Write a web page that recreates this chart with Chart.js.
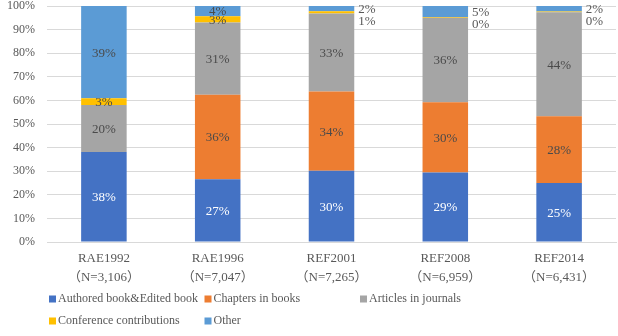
<!DOCTYPE html>
<html><head><meta charset="utf-8">
<script src="https://cdn.jsdelivr.net/npm/chart.js@4/dist/chart.umd.min.js"></script>
<style>html,body{margin:0;padding:0;background:#fff;}#wrap{width:618px;height:336px;position:relative;}</style>
</head><body><div id="wrap"><canvas id="c" width="618" height="336"></canvas></div>
<script>
const categories = ["RAE1992", "RAE1996", "REF2001", "REF2008", "REF2014"];
const sampleSizes = ["（N=3,106）", "（N=7,047）", "（N=7,265）", "（N=6,959）", "（N=6,431）"];
const seriesNames = ["Authored book&Edited book", "Chapters in books", "Articles in journals", "Conference contributions", "Other"];
const authored = [38.1, 26.6, 30.2, 29.4, 25.0];
const chapters = [0, 35.8, 33.6, 29.8, 28.3];
const articles = [20.0, 30.6, 33.0, 35.8, 44.1];
const conference = [2.8, 2.7, 1.0, 0.3, 0.3];
const other = [39.1, 4.3, 2.2, 4.7, 2.3];
const yTicks = [0, 10, 20, 30, 40, 50, 60, 70, 80, 90, 100];

const colors = ["#4472C4", "#ED7D31", "#A5A5A5", "#FFC000", "#5B9BD5"];
const seriesValues = [authored, chapters, articles, conference, other];
const FONT = "'Liberation Serif', 'DejaVu Serif', 'Noto Sans CJK JP', serif";
const TXT = "#595959";

const labelPlugin = {
  id: 'segLabels',
  afterDatasetsDraw(chart) {
    const ctx = chart.ctx;
    ctx.save();
    ctx.font = "13px " + FONT;
    ctx.textBaseline = 'middle';
    const n = categories.length;
    for (let i = 0; i < n; i++) {
      const outside = conference[i] < 1.5;
      for (let d = 0; d < chart.data.datasets.length; d++) {
        const v = chart.data.datasets[d].data[i];
        if (v === 0) continue;
        const el = chart.getDatasetMeta(d).data[i];
        const top = Math.min(el.y, el.base), bot = Math.max(el.y, el.base);
        const cy = (top + bot) / 2;
        const txt = Math.round(v) + "%";
        if (outside && d >= 3) {
          const xr = el.x + el.width / 2 + 4;
          ctx.textAlign = 'left';
          ctx.fillStyle = TXT;
          if (d === 4) { ctx.fillText(txt, xr, cy + 1); }
          else {
            const oel = chart.getDatasetMeta(4).data[i];
            const oy = (oel.y + oel.base) / 2;
            ctx.fillText(txt, xr, oy + 13);
          }
        } else {
          ctx.textAlign = 'center';
          ctx.fillStyle = d === 0 ? "#FFFFFF" : "#4a4a4a";
          ctx.fillText(txt, el.x, cy + 1);
        }
      }
    }
    ctx.restore();
  }
};

const legendPlugin = {
  id: 'gridLegend',
  afterDraw(chart) {
    const ctx = chart.ctx;
    ctx.save();
    ctx.font = "12px " + FONT;
    ctx.textBaseline = 'middle';
    ctx.textAlign = 'left';
    const x0 = 49, colW = 155.5, rows = [299, 321], perRow = 3;
    chart.data.datasets.forEach((ds, k) => {
      const r = Math.floor(k / perRow), c = k % perRow;
      const x = x0 + c * colW, y = rows[r];
      ctx.fillStyle = ds.backgroundColor;
      ctx.fillRect(x, y - 3.5, 7, 7);
      ctx.fillStyle = TXT;
      ctx.fillText(ds.label, x + 9, y);
    });
    ctx.restore();
  }
};

new Chart(document.getElementById('c'), {
  type: 'bar',
  data: {
    labels: categories.map((c, i) => [c, sampleSizes[i]]),
    datasets: seriesNames.map((name, k) => ({
      label: name,
      data: seriesValues[k],
      backgroundColor: colors[k],
      borderWidth: 0,
      categoryPercentage: 1.0,
      barPercentage: 0.4
    }))
  },
  options: {
    responsive: false,
    animation: false,
    devicePixelRatio: 1,
    layout: { padding: { left: 0, right: 2, top: 6, bottom: 40 } },
    plugins: { legend: { display: false }, tooltip: { enabled: false } },
    scales: {
      x: {
        stacked: true,
        grid: { display: false, drawTicks: false },
        border: { color: "#D9D9D9" },
        ticks: { color: TXT, font: { family: FONT, size: 13, lineHeight: 1.45 }, padding: 7, maxRotation: 0, autoSkip: false },
        afterFit(s) { s.height = 54; s.paddingLeft = 0; s.paddingRight = 0; }
      },
      y: {
        stacked: true,
        min: 0, max: 100,
        afterBuildTicks(s) { s.ticks = yTicks.map(v => ({ value: v })); },
        grid: { color: "#D9D9D9", drawTicks: false },
        border: { display: false },
        ticks: { color: TXT, font: { family: FONT, size: 12 }, padding: 12, callback: v => v + "%" },
        afterFit(s) { s.width = 47; s.paddingTop = 0; s.paddingBottom = 0; }
      }
    }
  },
  plugins: [labelPlugin, legendPlugin]
});
</script></body></html>
